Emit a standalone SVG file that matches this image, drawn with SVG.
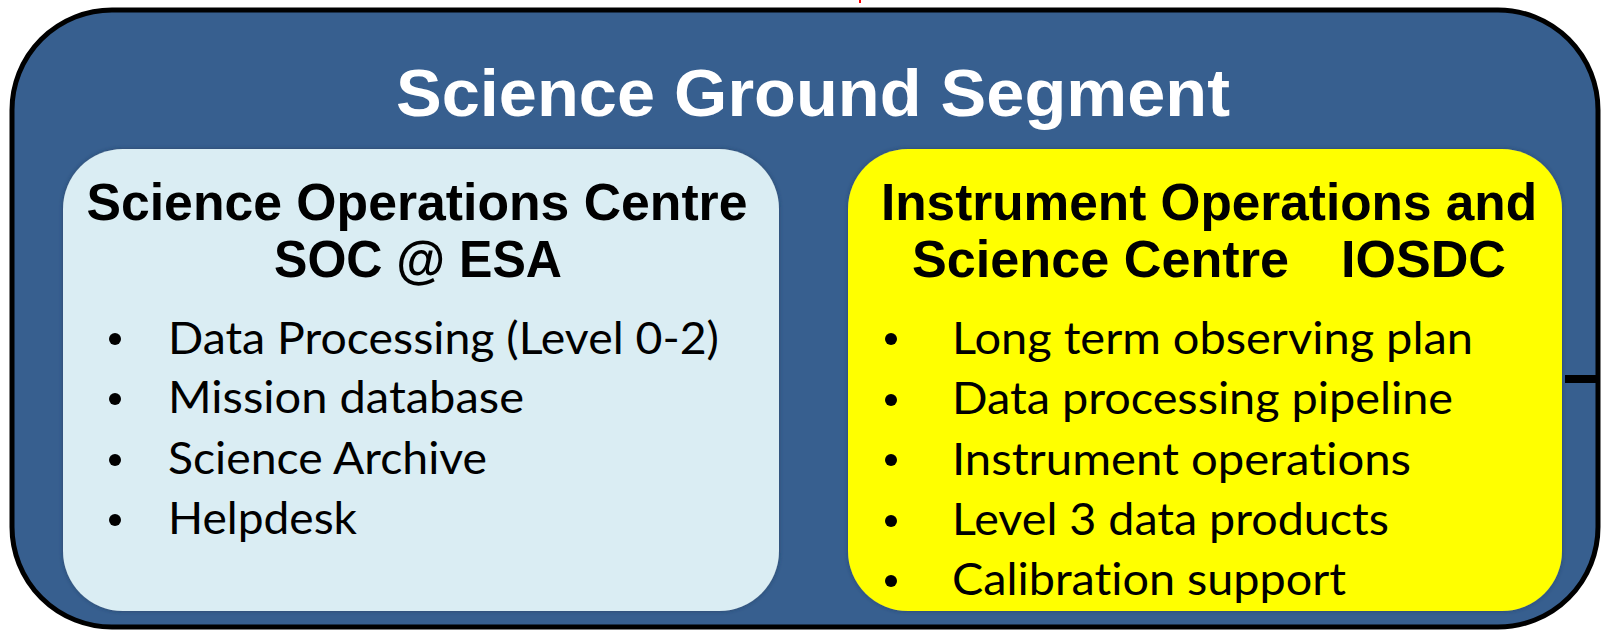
<svg xmlns="http://www.w3.org/2000/svg" width="1601" height="630" viewBox="0 0 1601 630">
  <style>
    .title { font-family: "Liberation Sans", Arial, sans-serif; font-weight: bold; fill: #ffffff; }
    .head { font-family: "Liberation Sans", Arial, sans-serif; font-weight: bold; fill: #000000; font-size: 52px; }
    .item { font-family: Lato, "Open Sans", sans-serif; fill: #000000; font-size: 44px; font-variant-ligatures: none; }
    .dot { fill: #000000; }
  </style>
  <defs>
    <filter id="edge" x="-5%" y="-5%" width="110%" height="110%">
      <feGaussianBlur in="SourceAlpha" stdDeviation="2"/>
      <feOffset dx="0" dy="0" result="b"/>
      <feFlood flood-color="#1f3552" flood-opacity="0.6"/>
      <feComposite in2="b" operator="in"/>
      <feMerge><feMergeNode/><feMergeNode in="SourceGraphic"/></feMerge>
    </filter>
  </defs>

  <rect width="1601" height="630" fill="#ffffff"/>
  <!-- small red tick at the top edge -->
  <rect x="859" y="0" width="2" height="3" fill="#ff0000"/>

  <!-- Science Ground Segment container -->
  <g id="sgs">
    <rect x="12" y="10" width="1586" height="617" rx="100" ry="100" fill="#375f8f" stroke="#000000" stroke-width="5"/>
    <text class="title" x="813" y="116" font-size="67" text-anchor="middle" textLength="834" lengthAdjust="spacingAndGlyphs">Science Ground Segment</text>
  </g>

  <!-- Science Operations Centre -->
  <g id="soc">
    <rect x="63" y="149" width="716" height="462" rx="60" ry="60" fill="#daedf3" filter="url(#edge)"/>
    <text class="head" x="417" y="220" text-anchor="middle" textLength="661" lengthAdjust="spacingAndGlyphs">Science Operations Centre</text>
    <text class="head" x="418" y="277" text-anchor="middle" textLength="288" lengthAdjust="spacingAndGlyphs">SOC @ ESA</text>
    <circle class="dot" cx="115" cy="339" r="6"/>
    <circle class="dot" cx="115" cy="399" r="6"/>
    <circle class="dot" cx="115" cy="460" r="6"/>
    <circle class="dot" cx="115" cy="520" r="6"/>
    <text class="item" x="168" y="354" textLength="551" lengthAdjust="spacingAndGlyphs">Data Processing (Level 0-2)</text>
    <text class="item" x="168" y="413" textLength="356" lengthAdjust="spacingAndGlyphs">Mission database</text>
    <text class="item" x="168" y="474" textLength="319" lengthAdjust="spacingAndGlyphs">Science Archive</text>
    <text class="item" x="168" y="534" textLength="189" lengthAdjust="spacingAndGlyphs">Helpdesk</text>
  </g>

  <!-- Instrument Operations and Science Centre -->
  <g id="iosdc">
    <rect x="848" y="149" width="714" height="462" rx="60" ry="60" fill="#ffff00" filter="url(#edge)"/>
    <text class="head" x="881" y="220" textLength="656" lengthAdjust="spacingAndGlyphs">Instrument Operations and</text>
    <text class="head" x="912" y="277" textLength="377" lengthAdjust="spacingAndGlyphs">Science Centre</text>
    <text class="head" x="1341" y="277" textLength="165" lengthAdjust="spacingAndGlyphs">IOSDC</text>
    <circle class="dot" cx="891" cy="339" r="6"/>
    <circle class="dot" cx="891" cy="400" r="6"/>
    <circle class="dot" cx="891" cy="460" r="6"/>
    <circle class="dot" cx="891" cy="521" r="6"/>
    <circle class="dot" cx="891" cy="581" r="6"/>
    <text class="item" x="952" y="354" textLength="521" lengthAdjust="spacingAndGlyphs">Long term observing plan</text>
    <text class="item" x="952" y="414" textLength="501" lengthAdjust="spacingAndGlyphs">Data processing pipeline</text>
    <text class="item" x="952" y="475" textLength="459" lengthAdjust="spacingAndGlyphs">Instrument operations</text>
    <text class="item" x="952" y="535" textLength="437" lengthAdjust="spacingAndGlyphs">Level 3 data products</text>
    <text class="item" x="952" y="595" textLength="394" lengthAdjust="spacingAndGlyphs">Calibration support</text>
  </g>

  <!-- connector stub leaving the right edge -->
  <g id="connectors">
    <line x1="1565" y1="379" x2="1600" y2="379" stroke="#000000" stroke-width="8"/>
  </g>
</svg>
